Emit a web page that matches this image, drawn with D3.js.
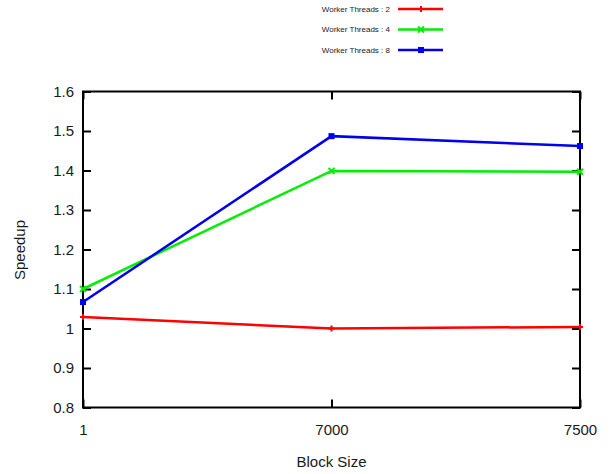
<!DOCTYPE html>
<html>
<head>
<meta charset="utf-8">
<script src="https://cdn.jsdelivr.net/npm/d3@7"></script>
<style>
  body { margin: 0; background: #fff; }
  text { font-family: "Liberation Sans", Arial, sans-serif; fill: #1a1a1a; }
</style>
</head>
<body>
<div id="container"></div>
<script>
// Chart data
let blockSizes = ["1", "7000", "7500"];
let threads2 = [1.029, 1.000, 1.004];
let threads4 = [1.100, 1.399, 1.397];
let threads8 = [1.067, 1.487, 1.462];
let yTicks = [0.8, 0.9, 1, 1.1, 1.2, 1.3, 1.4, 1.5, 1.6];

let seriesList = [
  { name: "Worker Threads : 2", values: threads2, color: "#ff0000", marker: "plus" },
  { name: "Worker Threads : 4", values: threads4, color: "#00ee00", marker: "cross" },
  { name: "Worker Threads : 8", values: threads8, color: "#0000ee", marker: "square" }
];

function BuildGraph(){
  let chartWidth = 609;
  let chartHeight = 474;
  let left = 83, right = 580, top = 91.5, bottom = 407.5;

  let svg = d3.select('#container')
    .append('svg')
    .attr('width', chartWidth)
    .attr('height', chartHeight);

  let xScale = d3.scalePoint()
    .domain(blockSizes)
    .range([left, right]);

  let yScale = d3.scaleLinear()
    .domain([0.8, 1.6])
    .range([bottom, top]);

  // Tick marks on all four sides, pointing inward
  let axisLeft = d3.axisLeft(yScale).tickValues(yTicks).tickSize(-8).tickPadding(9)
    .tickFormat((d) => d3.format("")(d));
  svg.append('g')
    .attr('transform', 'translate(' + left + ',0)')
    .call(axisLeft)
    .call(g => g.select('.domain').remove());

  svg.append('g')
    .attr('transform', 'translate(' + right + ',0)')
    .call(d3.axisRight(yScale).tickValues(yTicks).tickSize(-8).tickFormat(''))
    .call(g => g.select('.domain').remove());

  svg.append('g')
    .attr('transform', 'translate(0,' + bottom + ')')
    .call(d3.axisBottom(xScale).tickSize(-8).tickPadding(17))
    .call(g => g.select('.domain').remove());

  svg.append('g')
    .attr('transform', 'translate(0,' + top + ')')
    .call(d3.axisTop(xScale).tickSize(-8).tickFormat(''))
    .call(g => g.select('.domain').remove());

  svg.selectAll('.tick line').attr('stroke', '#000').attr('stroke-width', 2);
  svg.selectAll('.tick text').style('font-size', '15px').attr('fill', '#1a1a1a');

  // Frame
  svg.append('rect')
    .attr('x', left).attr('y', top)
    .attr('width', right - left).attr('height', bottom - top)
    .attr('fill', 'none').attr('stroke', '#000').attr('stroke-width', 2);

  // Axis titles
  svg.append('text')
    .attr('x', (left + right) / 2).attr('y', 467)
    .attr('text-anchor', 'middle')
    .style('font-size', '15px')
    .text('Block Size');

  svg.append('text')
    .attr('transform', 'translate(25,250) rotate(-90)')
    .attr('text-anchor', 'middle')
    .style('font-size', '15px')
    .text('Speedup');

  let line = d3.line()
    .x((d, i) => xScale(blockSizes[i]))
    .y((d) => yScale(d));

  function drawMarker(g, type, x, y, color){
    if(type === 'plus'){
      g.append('path').attr('d', 'M' + (x-3) + ',' + y + 'H' + (x+3) + 'M' + x + ',' + (y-3) + 'V' + (y+3))
        .attr('stroke', color).attr('stroke-width', 2);
    } else if(type === 'cross'){
      g.append('path').attr('d', 'M' + (x-3) + ',' + (y-3) + 'L' + (x+3) + ',' + (y+3) + 'M' + (x-3) + ',' + (y+3) + 'L' + (x+3) + ',' + (y-3))
        .attr('stroke', color).attr('stroke-width', 2);
    } else {
      g.append('rect').attr('x', x-3).attr('y', y-3).attr('width', 6).attr('height', 6)
        .attr('fill', color);
    }
  }

  seriesList.forEach((s) => {
    let g = svg.append('g');
    g.append('path')
      .datum(s.values)
      .attr('d', line)
      .attr('fill', 'none')
      .attr('stroke', s.color)
      .attr('stroke-width', 2.5);
    s.values.forEach((v, i) => drawMarker(g, s.marker, xScale(blockSizes[i]), yScale(v), s.color));
  });

  // Legend
  let legend = svg.append('g');
  seriesList.forEach((s, i) => {
    let y = 9 + i * 20.5;
    legend.append('text')
      .attr('x', 390).attr('y', y)
      .attr('dy', '0.35em')
      .attr('text-anchor', 'end')
      .style('font-size', '8px')
      .text(s.name);
    legend.append('line')
      .attr('x1', 398).attr('x2', 443)
      .attr('y1', y).attr('y2', y)
      .attr('stroke', s.color).attr('stroke-width', 2.5);
    drawMarker(legend, s.marker, 421, y, s.color);
  });
}

BuildGraph();
</script>
</body>
</html>
